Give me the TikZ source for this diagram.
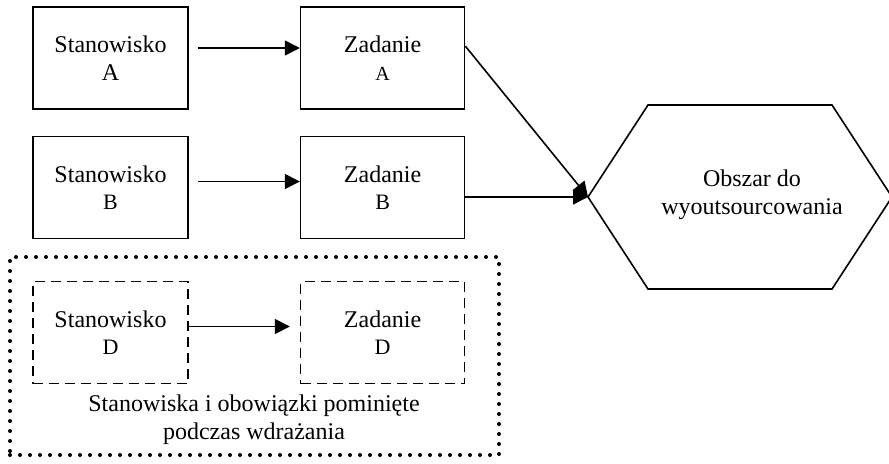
\documentclass[tikz,border=0pt]{standalone}
\usepackage{fontspec}
\setmainfont{Liberation Serif}
\usetikzlibrary{arrows.meta,positioning}

\newcommand{\litera}[2]{{\fontsize{#1}{13.8}\selectfont #2}}

\begin{document}
\begin{tikzpicture}[
  x=0.5pt, y=-0.5pt,
  >={Triangle[length=7.5pt,width=7.5pt]},
  node distance=55.5pt,
  every node/.style={font=\fontsize{12}{13.8}\selectfont},
  box/.style={draw, line width=0.8pt, align=center, minimum width=77.5pt, minimum height=51pt},
  pominbox/.style={box, dash pattern=on 5pt off 3pt},
  grupa/.style={draw, line width=2pt, dash pattern=on 0pt off 5pt, line cap=round,
    minimum width=244.5pt, minimum height=99pt},
  strz/.style={->, line width=0.8pt}
]
\useasboundingbox (0,0) rectangle (889,463);

% Stanowiska i zadania
\node[box] (stanA) at (110.5,58) {Stanowisko\\\litera{12}{A}};
\node[box, minimum width=82pt, right=of stanA] (zadA) {Zadanie\\\litera{10}{A}};
\node[box] (stanB) at (110.5,187.5) {Stanowisko\\\litera{11}{B}};
\node[box, minimum width=82pt, right=of stanB] (zadB) {Zadanie\\\litera{11}{B}};

% Grupa pominieta
\node[grupa] (grupaD) at (254.5,356) {};
\node[pominbox] (stanD) at (110.5,332.5) {Stanowisko\\\litera{11}{D}};
\node[pominbox, minimum width=82pt, right=of stanD] (zadD) {Zadanie\\\litera{11}{D}};
\node[align=center] (pomin) at (254,420) {Stanowiska i obowiązki pominięte\\podczas wdrażania};

% Obszar (szesciokat)
\coordinate (hexW) at (588,197);
\draw[line width=0.8pt] (hexW) -- ++(60,-92) -- ++(184,0) -- ++(60,92) -- ++(-60,92) -- ++(-184,0) -- cycle;
\node[align=center] (obszar) at (752,195) {Obszar do\\wyoutsourcowania};

% Strzalki
\draw[strz, shorten <=4.5pt] ([yshift=5pt]stanA.east) -- ([yshift=5pt]zadA.west);
\draw[strz, shorten <=4.5pt] ([yshift=3pt]stanB.east) -- ([yshift=3pt]zadB.west);
\draw[strz, shorten >=5pt] ([yshift=3pt]stanD.east) -- ([yshift=3pt]zadD.west);
\draw[strz] ([yshift=-20pt]zadA.north east) -- (hexW);
\draw[strz] (zadB.east |- hexW) -- (hexW);
\end{tikzpicture}
\end{document}
